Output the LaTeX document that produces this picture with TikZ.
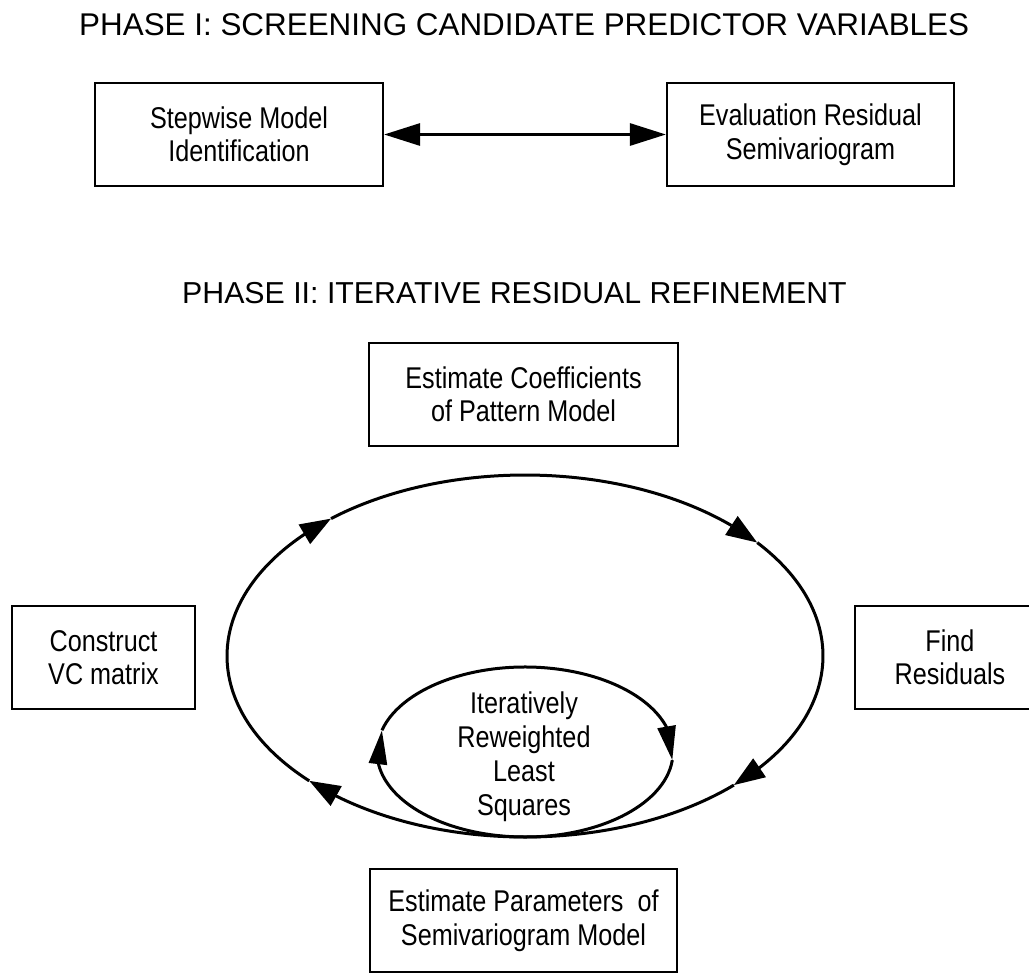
\documentclass[tikz,border=0pt]{standalone}
\usepackage{fontspec}
\setmainfont{Liberation Sans}
\newfontfamily\narrowfont{Liberation Sans}[FakeStretch=0.84]
\usetikzlibrary{arrows.meta,calc,bending}
\begin{document}
\begin{tikzpicture}[x=1pt,y=-1pt,
  box/.style={draw, line width=2.2pt, inner sep=0pt, align=center,
    font=\narrowfont\fontsize{30}{33.5}\selectfont},
  title/.style={anchor=base west, inner sep=0pt},
  loopline/.style={line width=3pt},
  otip/.style={-{Triangle[length=31pt,width=22pt,flex]}},
  itip/.style={-{Triangle[length=34pt,width=18pt,flex]}},
  dtip/.style={{Triangle[length=36pt,width=22pt]}-{Triangle[length=36pt,width=22pt]}}
]
\useasboundingbox (0,0) rectangle (1029,975);
\clip (0,0) rectangle (1029,975);
\node[title, font=\fontsize{31.4}{36}\selectfont] (t1) at (79,35) {PHASE I: SCREENING CANDIDATE PREDICTOR VARIABLES};
\node[title, font=\fontsize{30.3}{36}\selectfont] (t2) at (182,303) {PHASE II: ITERATIVE RESIDUAL REFINEMENT};
\node[box, minimum width=288pt, minimum height=103pt] (step) at (239,134.5) {Stepwise Model\\Identification};
\node[box, minimum width=287pt, minimum height=103pt] (eval) at (810.5,134.5) {Evaluation Residual\\Semivariogram};
\draw[line width=3pt, dtip] (step.east) -- (eval.west);
\node[box, minimum width=309pt, minimum height=103pt] (coef) at (523.5,394.5) {Estimate Coefficients\\of Pattern Model};
\node[box, minimum width=183pt, minimum height=103pt] (vc) at (103.5,657.5) {Construct\\VC matrix};
\node[box, minimum width=190pt, minimum height=103pt] (res) at (950,657.5) {Find\\Residuals};
\node[box, minimum width=307pt, minimum height=103pt] (par) at (523.5,920.5) {Estimate Parameters\ \ of\\Semivariogram Model};
\node[align=center, inner sep=0pt, font=\narrowfont\fontsize{30}{34}\selectfont] (irls) at (524,757) {Iteratively\\Reweighted\\Least\\Squares};
\coordinate (oc) at (525,656);
\coordinate (ic) at (525,752);
% outer loop (clockwise on screen)
\draw[loopline, otip] ($(oc)+(321.2:298 and 181)$) arc[start angle=321.2, end angle=405.5, x radius=298, y radius=181];
\draw[loopline, otip] ($(oc)+(45.5:298 and 181)$) arc[start angle=45.5, end angle=136.4, x radius=298, y radius=181];
\draw[loopline, otip] ($(oc)+(136.4:298 and 181)$) arc[start angle=136.4, end angle=229.4, x radius=298, y radius=181];
\draw[loopline, otip] ($(oc)+(229.4:298 and 181)$) arc[start angle=229.4, end angle=321.2, x radius=298, y radius=181];
% inner loop
\draw[loopline, itip] ($(ic)+(194.8:148 and 85)$) arc[start angle=194.8, end angle=365.5, x radius=148, y radius=85];
\draw[loopline, itip] ($(ic)+(5.5:148 and 85)$) arc[start angle=5.5, end angle=194.8, x radius=148, y radius=85];
\end{tikzpicture}
\end{document}
